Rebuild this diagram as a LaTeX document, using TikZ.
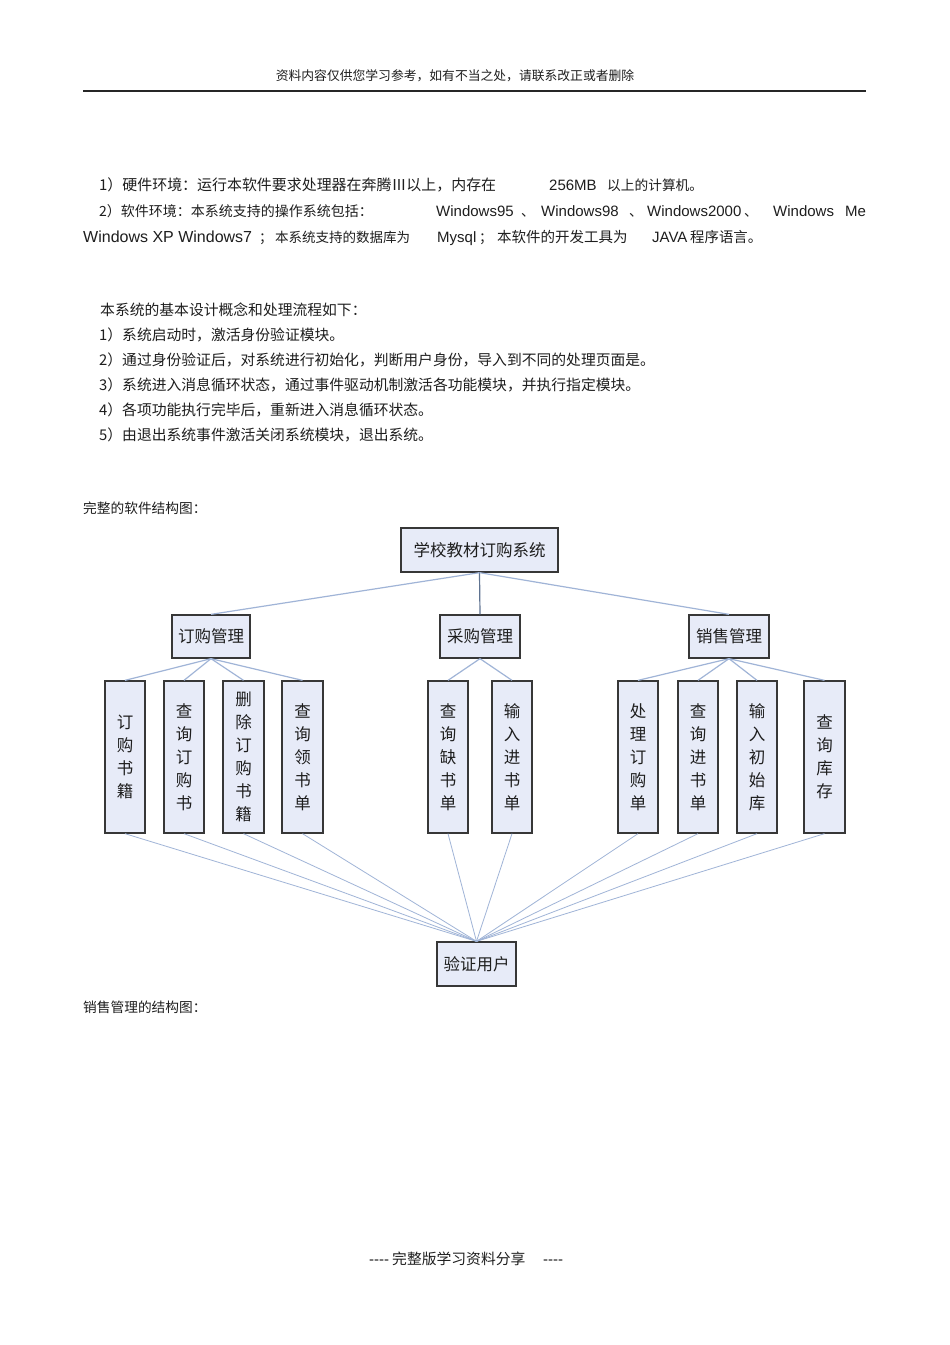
\documentclass[tikz,border=0pt]{standalone}
\usepackage{fontspec}
\setmainfont{Noto Sans CJK SC}
\newfontfamily\lat{Liberation Sans}
\newcommand\latw[1]{{\lat\fontsize{15}{16}\selectfont #1}}
\definecolor{boxfill}{RGB}{231,235,248}
\definecolor{boxdraw}{RGB}{55,55,55}
\definecolor{linkblue}{RGB}{160,180,215}
\definecolor{linkdark}{RGB}{95,115,145}
\definecolor{txt}{RGB}{30,30,30}
\tikzset{
  body/.style={anchor=base west,inner sep=0pt,text=txt,font=\fontsize{13.7}{14}\selectfont},
  sz/.style={font=\fontsize{#1}{#1}\selectfont},
  hbox/.style={draw=boxdraw,line width=1.3pt,fill=boxfill,inner sep=0pt,font=\fontsize{16.5}{18}\selectfont,text=txt},
  vbox/.style={hbox,minimum width=40pt,minimum height=152pt,align=center,font=\fontsize{16.5}{23}\selectfont},
  link/.style={draw=linkblue,line width=1.2pt},
  thin/.style={draw=linkblue,line width=0.8pt},
}
\begin{document}
\begin{tikzpicture}[x=1pt,y=-1pt]
\useasboundingbox (0,0) rectangle (950,1345);
\fill[white] (0,0) rectangle (950,1345);
% header
\node[inner sep=0pt,text=txt,font=\fontsize{12.8}{14}\selectfont] (hdr) at (455,76) {资料内容仅供您学习参考，如有不当之处，请联系改正或者删除};
\draw[line width=1.2pt,black!85] (83,91) -- (866,91);
% paragraph 1
\node[body,sz=14.95] (l1a) at (99,190) {1）硬件环境：运行本软件要求处理器在奔腾Ⅲ以上，内存在};
\node[body] (l1b) at (549,190) {\latw{256MB}};
\node[body] (l1c) at (607,190) {以上的计算机。};
\node[body,sz=14] (l2a) at (99,216) {2）软件环境：本系统支持的操作系统包括：};
\node[body] (l2b) at (436,216) {\latw{Windows95}};
\node[body] (l2c) at (521,216) {、};
\node[body] (l2d) at (541,216) {\latw{Windows98}};
\node[body] (l2e) at (629,216) {、};
\node[body] (l2f) at (647,216) {\latw{Windows2000}};
\node[body] (l2g) at (744,216) {、};
\node[body] (l2h) at (773,216) {\latw{Windows}};
\node[body] (l2i) at (845,216) {\latw{Me}};
\node[body] (l3a) at (83,242) {{\lat\fontsize{16}{17}\selectfont Windows XP Windows7}};
\node[body] (l3c) at (259,242) {；};
\node[body,sz=13.5] (l3d) at (275,242) {本系统支持的数据库为};
\node[body] (l3e) at (437,242) {\latw{Mysql}};
\node[body] (l3f) at (479,242) {；};
\node[body,sz=14.5] (l3g) at (497,242) {本软件的开发工具为};
\node[body] (l3h) at (652,242) {\latw{JAVA}};
\node[body,sz=14.4] (l3i) at (690,242) {程序语言。};
% paragraph 2
\node[body,sz=14.8] (p0) at (100,315) {本系统的基本设计概念和处理流程如下：};
\node[body,sz=14.8] (p1) at (99,340) {1）系统启动时，激活身份验证模块。};
\node[body,sz=14.8] (p2) at (99,365) {2）通过身份验证后，对系统进行初始化，判断用户身份，导入到不同的处理页面是。};
\node[body,sz=14.8] (p3) at (99,390) {3）系统进入消息循环状态，通过事件驱动机制激活各功能模块，并执行指定模块。};
\node[body,sz=14.8] (p4) at (99,415) {4）各项功能执行完毕后，重新进入消息循环状态。};
\node[body,sz=14.8] (p5) at (99,440) {5）由退出系统事件激活关闭系统模块，退出系统。};
\node[body] (cap1) at (83,513) {完整的软件结构图：};
\node[body] (cap2) at (83,1012) {销售管理的结构图：};
\node[body] (f1) at (369,1264) {\latw{-{}-{}-{}-}};
\node[body,sz=14.8] (f2) at (392,1264) {完整版学习资料分享};
\node[body] (f3) at (543,1264) {\latw{-{}-{}-{}-}};
% diagram nodes
\node[hbox,minimum width=157pt,minimum height=44pt] (root) at (479.5,550) {学校教材订购系统};
\node[hbox,minimum width=78pt,minimum height=43pt] (dg) at (211,636.5) {订购管理};
\node[hbox,minimum width=80pt,minimum height=43pt] (cg) at (480,636.5) {采购管理};
\node[hbox,minimum width=80pt,minimum height=43pt] (xs) at (729,636.5) {销售管理};
\node[vbox] (a1) at (125,757) {订\\购\\书\\籍};
\node[vbox] (a2) at (184,757) {查\\询\\订\\购\\书};
\node[vbox,minimum width=41pt] (a3) at (243.5,757) {删\\除\\订\\购\\书\\籍};
\node[vbox,minimum width=41pt] (a4) at (302.5,757) {查\\询\\领\\书\\单};
\node[vbox] (b1) at (448,757) {查\\询\\缺\\书\\单};
\node[vbox] (b2) at (512,757) {输\\入\\进\\书\\单};
\node[vbox] (c1) at (638,757) {处\\理\\订\\购\\单};
\node[vbox] (c2) at (698,757) {查\\询\\进\\书\\单};
\node[vbox] (c3) at (757,757) {输\\入\\初\\始\\库};
\node[vbox,minimum width=41pt] (c4) at (824.5,757) {查\\询\\库\\存};
\node[hbox,minimum width=79pt,minimum height=44pt] (yz) at (476.5,964) {验证用户};
% connectors
\draw[link] (root.south) -- (dg.north);
\draw[draw=linkdark,line width=1.2pt] (root.south) -- (cg.north);
\draw[link] (root.south) -- (xs.north);
\foreach \n in {a1,a2,a3,a4} \draw[link] (dg.south) -- (\n.north);
\foreach \n in {b1,b2} \draw[link] (cg.south) -- (\n.north);
\foreach \n in {c1,c2,c3,c4} \draw[link] (xs.south) -- (\n.north);
\foreach \n in {a1,a2,a3,a4,b1,b2,c1,c2,c3,c4} \draw[thin] (\n.south) -- (yz.north);
\end{tikzpicture}
\end{document}
